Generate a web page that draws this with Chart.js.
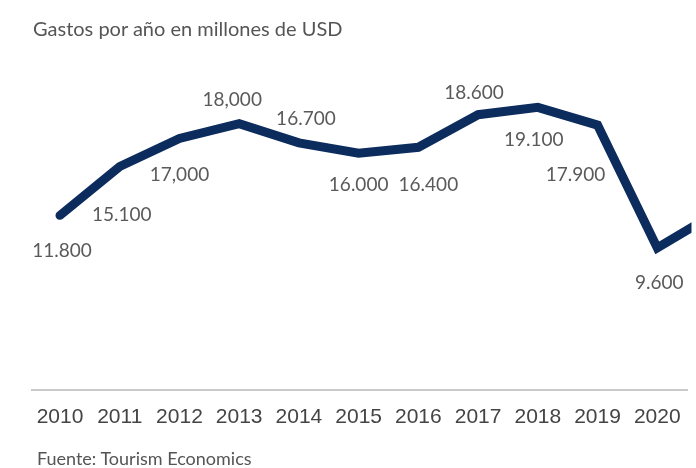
<!DOCTYPE html>
<html lang="es">
<head>
<meta charset="utf-8">
<title>Gastos por año</title>
<script src="https://cdn.jsdelivr.net/npm/chart.js@4.4.1/dist/chart.umd.min.js"></script>
<style>
  html, body { margin: 0; padding: 0; background: #fff; }
  #marco { position: relative; width: 696px; height: 468px; overflow: hidden; }
  #grafico { position: absolute; left: 0; top: 0; }
  .titulo { position: absolute; left: 33px; top: 16px; font: 20px/1.2 Lato, sans-serif; color: #555; white-space: nowrap; }
  .fuente { position: absolute; left: 37px; top: 448px; font: 18px/1.2 Lato, sans-serif; color: #555; white-space: nowrap; }
</style>
</head>
<body>
<div id="marco">
  <canvas id="grafico" width="696" height="468"></canvas>
  <div class="titulo">Gastos por año en millones de USD</div>
  <div class="fuente">Fuente: Tourism Economics</div>
</div>
<script>
// años con dato (2021 queda fuera del borde derecho)
const anios = [2010, 2011, 2012, 2013, 2014, 2015, 2016, 2017, 2018, 2019, 2020, 2021];
const gastos = [11800, 15100, 17000, 18000, 16700, 16000, 16400, 18600, 19100, 17900, 9600, 12000];
// años rotulados en el eje
const aniosEje = [2010, 2011, 2012, 2013, 2014, 2015, 2016, 2017, 2018, 2019, 2020];
// separador de miles usado en cada etiqueta
const separadores = ['.', '.', ',', ',', '.', '.', '.', '.', '.', '.', '.'];

// posición de cada etiqueta respecto a su punto (px)
const desplazamientos = [
  [2, 36], [2, 48], [0, 36], [-7, -24], [7, -24], [0, 32],
  [10, 38], [-4, -22], [-4, 33], [-22, 50], [2, 35]
];

function formatear(valor, sep) {
  const miles = Math.floor(valor / 1000);
  const resto = String(valor % 1000).padStart(3, '0');
  return miles + sep + resto;
}

const etiquetasValor = {
  id: 'etiquetasValor',
  afterDatasetsDraw(chart) {
    const ctx = chart.ctx;
    const puntos = chart.getDatasetMeta(0).data;
    ctx.save();
    ctx.font = '19px Lato, sans-serif';
    ctx.fillStyle = '#5a5a5a';
    ctx.textAlign = 'center';
    ctx.textBaseline = 'middle';
    desplazamientos.forEach(([dx, dy], i) => {
      const p = puntos[i];
      ctx.fillText(formatear(gastos[i], separadores[i]), p.x + dx, p.y + dy);
    });
    ctx.restore();
  }
};

new Chart(document.getElementById('grafico'), {
  type: 'line',
  data: {
    datasets: [{
      data: anios.map((a, i) => ({ x: a, y: gastos[i] })),
      borderColor: '#0d2c5e',
      borderWidth: 9,
      borderJoinStyle: 'miter',
      borderCapStyle: 'round',
      tension: 0,
      pointRadius: 0,
      clip: { left: 6, top: 6, right: 4, bottom: 6 }
    }]
  },
  options: {
    responsive: false,
    animation: false,
    devicePixelRatio: 1,
    layout: { padding: { left: 32, right: 8, top: 20, bottom: 0 } },
    plugins: {
      legend: { display: false },
      tooltip: { enabled: false }
    },
    scales: {
      x: {
        type: 'linear',
        min: 2009.531,
        max: 2020.506,
        afterBuildTicks: s => { s.ticks = aniosEje.map(v => ({ value: v })); },
        afterFit: s => { s.height = 78; },
        ticks: {
          callback: v => String(v),
          font: { family: 'Liberation Sans', size: 21 },
          color: '#444',
          padding: 15,
          maxRotation: 0,
          autoSkip: false
        },
        grid: { display: false, drawTicks: false },
        border: { display: true, color: '#c9c9c9', width: 2 }
      },
      y: {
        display: false,
        min: 0,
        max: 25000
      }
    }
  },
  plugins: [etiquetasValor]
});
</script>
</body>
</html>
